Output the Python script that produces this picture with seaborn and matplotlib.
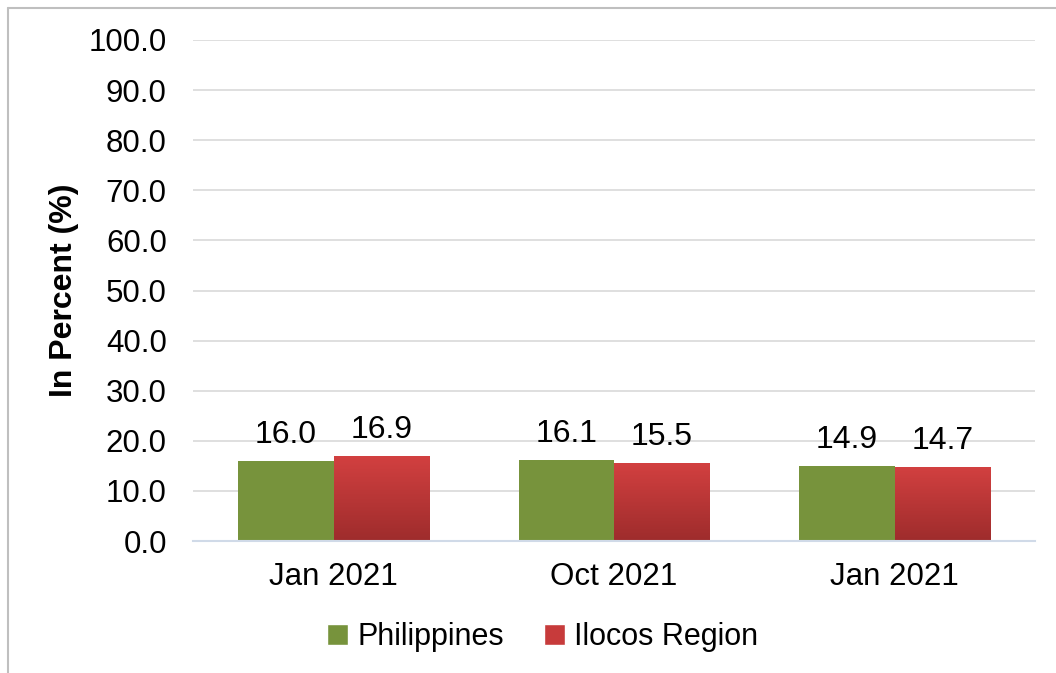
import numpy as np
import pandas as pd
import matplotlib
matplotlib.use('Agg')
import matplotlib.pyplot as plt
from matplotlib.lines import Line2D
from matplotlib.patches import Patch
import seaborn as sns

periods = ['Jan 2021', 'Oct 2021', 'Jan 2021 ']
philippines = [16.0, 16.1, 14.9]
ilocos = [16.9, 15.5, 14.7]
series = ['Philippines', 'Ilocos Region']
yticks = [0, 10, 20, 30, 40, 50, 60, 70, 80, 90, 100]

df = pd.DataFrame({
    'period': periods * 2,
    'value': philippines + ilocos,
    'series': [series[0]] * 3 + [series[1]] * 3,
})

sns.set_theme(style='white')
plt.rcParams['font.family'] = ['Liberation Sans', 'DejaVu Sans']
plt.rcParams['text.color'] = 'black'
plt.rcParams['axes.labelcolor'] = 'black'
plt.rcParams['xtick.color'] = 'black'
plt.rcParams['ytick.color'] = 'black'

green = '#77933C'
red = '#C73B3B'

fig = plt.figure(figsize=(10.56, 6.73), dpi=100)
ax = fig.add_axes([0.183, 0.196, 0.797, 0.7446])

sns.barplot(data=df, x='period', y='value', hue='series', palette=[green, red],
            width=0.68, saturation=1, ax=ax, legend=False, edgecolor='none')

ax.set_ylim(0, 100)
ax.set_yticks(yticks)
ax.set_yticklabels([f'{v:.1f}' for v in yticks])
ax.set_xticks(range(3))
ax.set_xticklabels([p.strip() for p in periods])
ax.tick_params(axis='y', labelsize=22.5, pad=19, length=0)
ax.tick_params(axis='x', labelsize=22.5, pad=15, length=0)
ax.yaxis.grid(True, color='#D9D9D9', linewidth=1.2)
ax.set_axisbelow(True)
for s in ['top', 'right', 'left']:
    ax.spines[s].set_visible(False)
ax.spines['bottom'].set_color('#D0DAE8')
ax.spines['bottom'].set_linewidth(1.5)
ax.set_xlabel('')
ax.set_ylabel('In Percent (%)', fontsize=23, fontweight='bold', labelpad=7)

# gradient on the red bars
grad = np.linspace(0, 1, 256).reshape(-1, 1)
cmap = matplotlib.colors.LinearSegmentedColormap.from_list('rg', ['#9E2C2C', '#D24040'])
n = len(periods)
for i, p in enumerate(ax.patches):
    if i >= n and i < 2 * n:
        x0, y0 = p.get_x(), p.get_y()
        w, h = p.get_width(), p.get_height()
        im = ax.imshow(grad, cmap=cmap, extent=[x0, x0 + w, y0, y0 + h],
                       origin='lower', aspect='auto', zorder=p.get_zorder() + 0.1)
        im.set_clip_path(p)
ax.set_xlim(-0.5, 2.5)
ax.set_ylim(0, 100)

for c in ax.containers:
    ax.bar_label(c, fmt='%.1f', fontsize=23, padding=8)

handles = [Patch(facecolor=green, label=series[0]), Patch(facecolor=red, label=series[1])]
fig.legend(handles=handles, loc='center', bbox_to_anchor=(0.514, 0.053), ncol=2,
           frameon=False, fontsize=22, handlelength=0.7, handleheight=0.7,
           handletextpad=0.3, columnspacing=1.3)

# outer chart border (left and top)
fig.add_artist(Line2D([0.0076, 0.0076], [0.0, 0.988], color='#BFBFBF', lw=1.5))
fig.add_artist(Line2D([0.0076, 1.0], [0.988, 0.988], color='#BFBFBF', lw=1.5))

fig.savefig('out.png', dpi=100)
